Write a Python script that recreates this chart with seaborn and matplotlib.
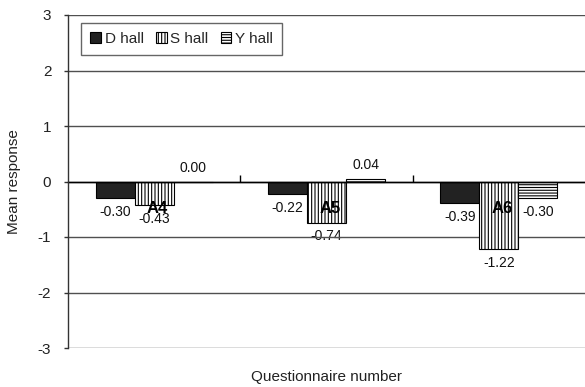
import matplotlib
matplotlib.use("Agg")
import matplotlib.pyplot as plt
from matplotlib.patches import Patch
import seaborn as sns
import pandas as pd

# ---- data ----
questions = ["A4", "A5", "A6"]
halls = ["D hall", "S hall", "Y hall"]
d_hall = [-0.30, -0.22, -0.39]
s_hall = [-0.43, -0.74, -1.22]
y_hall = [0.00, 0.04, -0.30]
y_ticks = [-3, -2, -1, 0, 1, 2, 3]

sns.set_theme(style="white")
plt.rcParams["font.family"] = ["Liberation Sans", "DejaVu Sans"]
plt.rcParams["hatch.linewidth"] = 0.8

rows = []
for hall, vals in zip(halls, [d_hall, s_hall, y_hall]):
    for q, v in zip(questions, vals):
        rows.append({"q": q, "hall": hall, "v": v})
df = pd.DataFrame(rows)

fig = plt.figure(figsize=(5.85, 3.87), dpi=100)
ax = fig.add_axes([68 / 585, 39 / 387, 517 / 585, 333 / 387])

sns.barplot(data=df, x="q", y="v", hue="hall", order=questions, hue_order=halls,
            width=0.68, errorbar=None, palette=["#222222", "white", "white"],
            edgecolor="black", linewidth=0.8, legend=False, ax=ax, zorder=1)

styles = {"D hall": ("#222222", ""), "S hall": ("white", "|||||"), "Y hall": ("white", "------")}
for cont, hall in zip(ax.containers, halls):
    fc, hatch = styles[hall]
    for p in cont.patches:
        p.set_facecolor(fc)
        p.set_hatch(hatch)
        p.set_edgecolor("black")
        p.set_zorder(1)
    for p, v in zip(cont.patches, df[df.hall == hall]["v"]):
        x = p.get_x() + p.get_width() / 2
        off = 10 if v >= 0 else -10
        ax.annotate(f"{v:.2f}", (x, v), xytext=(0, off), textcoords="offset points",
                    ha="center", va="center", fontsize=10, color="#111111", zorder=0.5)

# gridlines (over the value labels, under the bars)
for yv in [-3, -2, -1, 1, 2, 3]:
    ax.axhline(yv, color="#505050", lw=1.0, zorder=0.8)
ax.axhline(0, color="black", lw=1.0, zorder=2)

# category labels near the zero line
for i, q in enumerate(questions):
    ax.text(i + 0.02, -0.49, q, ha="center", va="center", fontsize=12,
            fontweight="bold", color="black", zorder=3)

ax.set_ylim(-3, 3)
ax.set_xlim(-0.5, 2.5)
ax.set_yticks(y_ticks)
ax.set_yticklabels([str(t) for t in y_ticks], fontsize=11, color="#222222")
ax.tick_params(axis="y", left=True, length=3, width=1, pad=9, color="#333333")
ax.set_xticks([0.5, 1.5])
ax.set_xticklabels([])
ax.tick_params(axis="x", bottom=True, direction="in", length=5, width=1, color="black")

for s in ["top", "right"]:
    ax.spines[s].set_visible(False)
ax.spines["left"].set_color("#333333")
ax.spines["left"].set_linewidth(1)
ax.spines["bottom"].set_position(("data", 0))
ax.spines["bottom"].set_color("black")
ax.spines["bottom"].set_linewidth(1)
ax.spines["bottom"].set_zorder(2)

ax.set_ylabel("Mean response", fontsize=11, color="#222222")
ax.yaxis.set_label_coords(-0.09, 0.5)
ax.set_xlabel("Questionnaire number", fontsize=11, color="#222222")
ax.xaxis.set_label_coords(0.5, -0.065)

handles = [Patch(facecolor=styles[h][0], hatch=styles[h][1], edgecolor="black", lw=0.8, label=h)
           for h in halls]
leg = ax.legend(handles=handles, loc="upper left", bbox_to_anchor=(0.025, 0.976), ncol=3,
                fontsize=11, frameon=True, fancybox=False, framealpha=1, edgecolor="#666666",
                handlelength=0.7, handleheight=0.7, handletextpad=0.25, columnspacing=0.8,
                borderpad=0.6, borderaxespad=0)
leg.get_frame().set_linewidth(1)
leg.set_zorder(5)

fig.savefig("out.png", dpi=100)
